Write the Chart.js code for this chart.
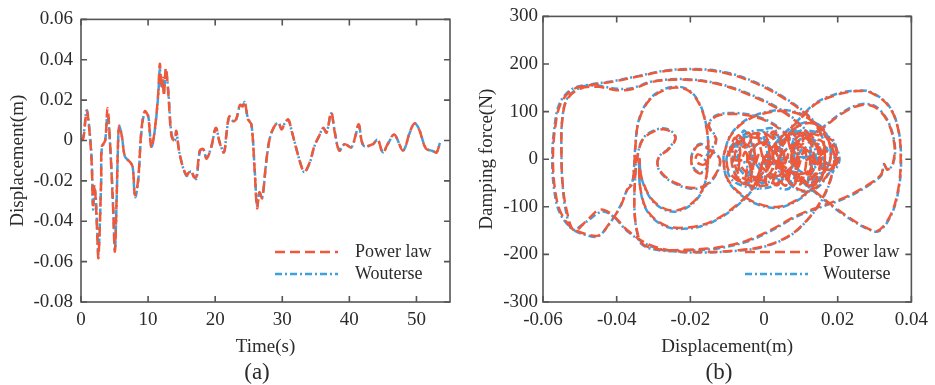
<!DOCTYPE html>
<html>
<head>
<meta charset="utf-8">
<script src="https://cdn.jsdelivr.net/npm/chart.js@4.4.1/dist/chart.umd.min.js"></script>
<style>
  body { margin: 0; background: #fff; }
  #wrap { position: relative; width: 935px; height: 385px; }
  canvas { position: absolute; top: 0; }
  .cap { position: absolute; font-family: 'Liberation Serif', 'Times New Roman', serif; font-size: 23px; color: #2b2b2b; transform: translate(-50%, -50%); }
</style>
</head>
<body>
<div id="wrap">
  <canvas id="chartA" width="465" height="385" style="left:0"></canvas>
  <canvas id="chartB" width="470" height="385" style="left:465px"></canvas>
  <div class="cap" style="left:257px; top:372px">(a)</div>
  <div class="cap" style="left:719px; top:372px">(b)</div>
</div>
<script>
// (a) time history of displacement
var timeS = [0, 0.35, 0.85, 1.3, 1.6, 1.8, 2.0, 2.2, 2.4, 2.6, 3.0, 3.1, 3.6, 3.95, 4.3, 4.8, 5.05, 5.3, 5.55, 5.7,
    6.1, 6.55, 7.3, 7.7, 8.05, 8.5, 9.0, 9.5, 10.0, 10.5, 11.0, 11.5, 11.75, 12.0, 12.2, 12.35, 12.65, 13.0, 13.5, 14.0,
    14.2, 14.7, 15.7, 16.4, 16.8, 17.2, 17.7, 18.2, 18.7, 19.4, 20.1, 20.7, 21.3, 21.7, 22.1, 22.6, 23.1, 23.7, 24.1, 24.4,
    24.9, 25.4, 25.9, 26.25, 26.6, 27.0, 27.6, 28.1, 28.7, 29.4, 29.9, 30.4, 30.9, 31.4, 32.1, 32.8, 33.3, 34.1, 34.8, 35.5,
    36.1, 36.6, 37.3, 37.8, 38.5, 39.3, 40.3, 40.9, 41.4, 42.1, 43.5, 44.2, 45.0, 45.7, 46.7, 48.0, 49.0, 49.7, 50.4, 51.4,
    52.4, 53.0, 53.5];
var dispPower = [0, 0.001, 0.0145, 0.003, -0.012, -0.032, -0.022, -0.03, -0.045, -0.058, -0.02, -0.003, 0.0, 0.016, 0.001, -0.035, -0.055, -0.03, 0.002, 0.0075,
    0.002, -0.008, -0.0107, -0.013, -0.027, -0.02, 0.005, 0.0145, 0.012, -0.0035, 0.0055, 0.023, 0.038, 0.026, 0.031, 0.022, 0.036, 0.024, 0.002, 0.0,
    0.0047, -0.0067, -0.017, -0.0148, -0.018, -0.018, -0.005, -0.0042, -0.009, -0.0034, 0.0063, -0.0015, -0.0059, 0.0039, 0.012, 0.0096, 0.0104, 0.0177, 0.0169, 0.0193,
    0.0104, 0.0079, -0.0156, -0.0335, -0.0256, -0.0286, -0.0107, 0.0006, 0.0063, 0.0088, 0.0055, 0.0088, 0.0104, 0.0047, -0.0042, -0.0123, -0.0156, -0.0107, -0.0026, 0.0023,
    0.0063, 0.0039, 0.014, 0.0045, -0.005, -0.0018, -0.0034, 0.0023, 0.008, -0.0025, -0.0018, 0.0006, -0.006, -0.0018, 0.003, -0.005, 0.004, 0.0085, 0.0055, -0.004,
    -0.005, -0.006, -0.001];
var dispWouterse = [0, 0.002, 0.015, 0.004, -0.01, -0.034, -0.024, -0.028, -0.043, -0.056, -0.021, -0.004, 0.0, 0.013, 0.0, -0.033, -0.054, -0.031, 0.001, 0.007,
    0.002, -0.008, -0.0105, -0.013, -0.028, -0.021, 0.004, 0.014, 0.0125, -0.003, 0.005, 0.022, 0.035, 0.027, 0.03, 0.024, 0.034, 0.025, 0.003, 0.0,
    0.0045, -0.0065, -0.0175, -0.0152, -0.0175, -0.019, -0.0055, -0.004, -0.0085, -0.0034, 0.006, -0.0012, -0.0058, 0.0036, 0.0115, 0.0098, 0.0102, 0.0175, 0.0172, 0.019,
    0.0108, 0.0082, -0.015, -0.032, -0.026, -0.0284, -0.011, 0.0004, 0.0062, 0.0089, 0.0058, 0.0087, 0.0102, 0.0048, -0.004, -0.0122, -0.0157, -0.011, -0.0028, 0.0022,
    0.0062, 0.0041, 0.0135, 0.0048, -0.0048, -0.0018, -0.0033, 0.0022, 0.0078, -0.0025, -0.002, 0.0005, -0.0058, -0.002, 0.0028, -0.0048, 0.0038, 0.0084, 0.0056, -0.0038,
    -0.0052, -0.0058, -0.0012];
var xTicksA = [0, 10, 20, 30, 40, 50];
var yTicksA = [-0.08, -0.06, -0.04, -0.02, 0, 0.02, 0.04, 0.06];
var yLabelsA = ['-0.08', '-0.06', '-0.04', '-0.02', '0', '0.02', '0.04', '0.06'];

// (b) damping force against displacement, [displacement, force] in drawing order
var hystPower = [
    [0.000, 0], [0.006, -25], [0.012, -30], [0.015, 0],
    [0.014, 30], [0.010, 70], [0.004, 105], [-0.004, 135], [-0.012, 157], [-0.021, 167], [-0.030, 163], [-0.036, 147], [-0.040, 145], [-0.045, 152], [-0.050, 148], [-0.0535, 125], [-0.0548, 80], [-0.0550, 20],
    [-0.0547, -50], [-0.0535, -110], [-0.0515, -150], [-0.048, -128], [-0.0445, -106], [-0.041, -118], [-0.037, -150], [-0.031, -180], [-0.024, -193], [-0.016, -195], [-0.008, -192], [0.000, -183], [0.007, -160], [0.012, -125], [0.016, -80], [0.0185, -30], [0.0190, 10],
    [0.017, 45], [0.012, 90], [0.006, 125], [-0.001, 155], [-0.009, 178], [-0.017, 188], [-0.026, 186], [-0.034, 174], [-0.041, 163], [-0.047, 156], [-0.052, 146], [-0.0553, 115], [-0.0568, 60], [-0.0573, 0],
    [-0.0568, -60], [-0.0553, -110], [-0.052, -145], [-0.048, -158], [-0.0448, -160], [-0.042, -135], [-0.039, -100], [-0.0372, -65], [-0.0358, -52], [-0.0352, -10], [-0.0350, 20],
    [-0.0340, 80], [-0.0310, 125], [-0.0260, 148], [-0.0210, 146], [-0.0175, 115], [-0.0155, 60], [-0.0152, 0], [-0.0165, -60], [-0.0200, -95], [-0.0250, -108], [-0.0300, -88], [-0.0332, -40], [-0.0338, 0],
    [-0.0336, -60], [-0.0315, -110], [-0.0265, -140], [-0.0200, -143], [-0.0140, -130], [-0.0080, -100], [-0.0030, -60], [0.0000, 0],
    [0.0040, 40], [0.0090, 78], [0.0140, 116], [0.0200, 136], [0.0250, 143], [0.0290, 140], [0.0340, 110], [0.0365, 60], [0.0371, 0], [0.0365, -60], [0.0345, -115], [0.0310, -150], [0.0280, -145], [0.0230, -122], [0.0180, -94], [0.0130, -62], [0.0080, -30], [0.0040, 0],
    [0.0080, 30], [0.0150, 60], [0.0210, 95], [0.0260, 113], [0.0300, 110], [0.0335, 80], [0.0354, 30], [0.0350, -8], [0.0335, -22], [0.0325, -10], [0.0318, -32], [0.0280, -55], [0.0220, -80], [0.0150, -100], [0.0090, -118], [0.0020, -148], [-0.0050, -172], [-0.0130, -186], [-0.0210, -190], [-0.0280, -190], [-0.0330, -178], [-0.0345, -150], [-0.0352, -100], [-0.0350, -40], [-0.0345, 0],
    [-0.0330, 40], [-0.0300, 58], [-0.0265, 62], [-0.0240, 45], [-0.0260, 20], [-0.0285, 5], [-0.0288, -15], [-0.0270, -35], [-0.0240, -50], [-0.0200, -60], [-0.0160, -55], [-0.0130, -30], [-0.0120, 0],
    [-0.0150, 20], [-0.0175, 30], [-0.0195, 10], [-0.0195, -15], [-0.0175, -30], [-0.0155, -20], [-0.0160, 0], [-0.0180, 10], [-0.0185, -5], [-0.0160, -10],
    [-0.0130, 40], [-0.0150, 70], [-0.0130, 90], [-0.0080, 95], [-0.0030, 90], [0.0020, 75], [0.0060, 50], [0.0080, 20], [0.0085, 0],
    [0.0090, -30], [0.0120, -55], [0.0155, -40], [0.0165, 0], [0.0160, 40], [0.0130, 80], [0.0070, 100], [0.0010, 98], [-0.0050, 80], [-0.0090, 50], [-0.0105, 20], [-0.0110, 0], [-0.0100, -40], [-0.0060, -75], [-0.0010, -95], [0.0040, -100], [0.0090, -85], [0.0130, -60], [0.0160, -30], [0.0180, 0],
    [0.0175, 40], [0.0150, 70], [0.0110, 75], [0.0070, 55], [0.0050, 25], [0.0045, 0], [0.0060, -40], [0.0100, -65], [0.0140, -60], [0.0170, -35], [0.0195, 0], [0.0195, 25], [0.0185, 40],
    [0.0150, 50], [0.0100, 55], [0.0060, 40], [0.0030, 15], [0.0010, -10], [-0.0010, -35], [-0.0040, -45], [-0.0070, -30], [-0.0080, 0], [-0.0070, 30], [-0.0040, 50], [0.0000, 55], [0.0030, 35], [0.0040, 0], [0.0030, -30], [0.0000, -45], [-0.0030, -30], [-0.0040, 0], [-0.0030, 25], [0.0000, 35], [0.0020, 20], [0.0030, -5], [0.0050, -30], [0.0080, -45], [0.0110, -40], [0.0130, -15], [0.0135, 10], [0.0125, 35], [0.0100, 50], [0.0080, 35], [0.0075, 10], [0.0085, -15], [0.0100, -30], [0.0120, -25], [0.0125, 0], [0.0115, 20], [0.0095, 25], [0.0090, 5],
    [0.0070, -20], [0.0040, -35], [0.0005, -25], [-0.0020, 0], [-0.0030, 20], [-0.0050, 30], [-0.0065, 15], [-0.0065, -10], [-0.0045, -30], [-0.0010, -40], [0.0020, -25], [0.0025, 5], [0.0010, 30], [-0.0020, 45], [-0.0060, 40], [-0.0095, 15], [-0.0100, -15], [-0.0080, -40], [-0.0040, -55], [0.0010, -55], [0.0050, -45], [0.0070, -20], [0.0075, 10], [0.0090, 35], [0.0115, 45], [0.0140, 30], [0.0150, 5], [0.0150, -20], [0.0130, -40], [0.0105, -45], [0.0090, -25], [0.0095, 0], [0.0110, 15], [0.0130, 15], [0.0140, -5], [0.0160, -20], [0.0185, -20], [0.0200, -5], [0.0200, 15], [0.0185, 30], [0.0165, 25], [0.0160, 5], [0.0170, -10], [0.0190, -10], [0.0195, 5], [0.0180, 15], [0.0150, 15], [0.0120, 0], [0.0080, -10], [0.0040, -5], [0.0010, 5],
    [-0.0090, 0], [-0.0080, 45], [-0.0065, 20], [-0.0070, -40], [-0.0055, -50], [-0.0045, 0], [-0.0055, 45], [-0.0040, 55], [-0.0025, 10], [-0.0035, -45], [-0.0020, -55], [-0.0005, 0], [-0.0015, 50], [0.0000, 58], [0.0015, 10], [0.0005, -50], [0.0020, -55], [0.0035, 0], [0.0025, 50], [0.0040, 55], [0.0055, 5], [0.0045, -45], [0.0060, -55], [0.0075, 0], [0.0065, 50], [0.0080, 55], [0.0095, 5], [0.0085, -45], [0.0100, -52], [0.0115, 0], [0.0105, 48], [0.0120, 50], [0.0135, 5], [0.0125, -45], [0.0140, -45], [0.0155, 0], [0.0148, 40], [0.0160, 35], [0.0165, 0], [0.0158, -35], [0.0140, -30],
    [0.0120, -50], [0.0095, -35], [0.0080, -55], [0.0055, -35], [0.0035, -55], [0.0010, -35], [-0.0010, -55], [-0.0035, -35], [-0.0055, -52], [-0.0080, -30], [-0.0088, 10], [-0.0070, 50], [-0.0045, 30], [-0.0025, 55], [0.0000, 30], [0.0025, 58], [0.0050, 30], [0.0075, 55], [0.0100, 30], [0.0125, 50], [0.0150, 20], [0.0152, -15], [0.0130, -5], [0.0110, 20], [0.0090, -20], [0.0070, 15], [0.0050, -20], [0.0030, 15], [0.0010, -20], [-0.0010, 15], [-0.0030, -20], [-0.0050, 15], [-0.0060, 0]
];
var hystWouterse = [
    [0.000, 0], [0.006, -22], [0.012, -28], [0.015, 0],
    [0.014, 32], [0.010, 72], [0.004, 107], [-0.004, 137], [-0.012, 158], [-0.021, 168], [-0.030, 164], [-0.036, 149], [-0.040, 148], [-0.046, 155], [-0.050, 150], [-0.0535, 127], [-0.0548, 82], [-0.0550, 20],
    [-0.0547, -52], [-0.0537, -112], [-0.0520, -148], [-0.048, -130], [-0.0440, -110], [-0.041, -120], [-0.037, -152], [-0.031, -182], [-0.024, -194], [-0.016, -196], [-0.008, -193], [0.000, -184], [0.007, -161], [0.012, -126], [0.016, -82], [0.0185, -32], [0.0190, 10],
    [0.017, 46], [0.012, 92], [0.006, 127], [-0.001, 157], [-0.009, 180], [-0.017, 189], [-0.026, 187], [-0.034, 175], [-0.041, 164], [-0.047, 157], [-0.052, 148], [-0.0555, 117], [-0.0570, 60], [-0.0575, 0],
    [-0.0570, -62], [-0.0555, -112], [-0.052, -147], [-0.048, -160], [-0.0450, -162], [-0.042, -136], [-0.039, -98], [-0.0368, -58], [-0.0358, -50], [-0.0352, -8], [-0.0350, 20],
    [-0.0340, 82], [-0.0310, 127], [-0.0260, 150], [-0.0210, 148], [-0.0175, 117], [-0.0155, 62], [-0.0152, 0], [-0.0165, -62], [-0.0200, -97], [-0.0250, -110], [-0.0300, -90], [-0.0332, -42], [-0.0338, 0],
    [-0.0336, -62], [-0.0315, -112], [-0.0265, -142], [-0.0200, -145], [-0.0140, -132], [-0.0080, -102], [-0.0030, -62], [0.0000, 0],
    [0.0040, 42], [0.0090, 80], [0.0140, 118], [0.0200, 138], [0.0250, 144], [0.0290, 141], [0.0340, 111], [0.0365, 61], [0.0372, 0], [0.0366, -61], [0.0346, -116], [0.0312, -151], [0.0280, -146], [0.0230, -124], [0.0180, -96], [0.0130, -64], [0.0080, -32], [0.0040, 0],
    [0.0080, 32], [0.0150, 62], [0.0210, 97], [0.0260, 115], [0.0300, 112], [0.0335, 82], [0.0355, 30], [0.0351, -8], [0.0336, -22], [0.0326, -12], [0.0318, -34], [0.0280, -57], [0.0220, -82], [0.0150, -102], [0.0090, -120], [0.0020, -150], [-0.0050, -174], [-0.0130, -188], [-0.0210, -192], [-0.0280, -192], [-0.0330, -180], [-0.0345, -152], [-0.0352, -102], [-0.0350, -42], [-0.0345, 0],
    [-0.0330, 42], [-0.0300, 60], [-0.0265, 64], [-0.0240, 47], [-0.0260, 22], [-0.0285, 5], [-0.0288, -17], [-0.0270, -37], [-0.0240, -52], [-0.0200, -62], [-0.0160, -57], [-0.0130, -32], [-0.0120, 0],
    [-0.0150, 22], [-0.0175, 32], [-0.0195, 12], [-0.0195, -13], [-0.0175, -28], [-0.0155, -18], [-0.0160, 0],
    [-0.0130, 42], [-0.0150, 72], [-0.0130, 92], [-0.0080, 97], [-0.0030, 92], [0.0020, 77], [0.0060, 52], [0.0080, 22], [0.0085, 0],
    [0.0090, -32], [0.0120, -57], [0.0155, -42], [0.0165, 0], [0.0160, 42], [0.0130, 82], [0.0070, 102], [0.0010, 100], [-0.0050, 82], [-0.0090, 52], [-0.0105, 22], [-0.0110, 0], [-0.0100, -42], [-0.0060, -77], [-0.0010, -97], [0.0040, -102], [0.0090, -87], [0.0130, -62], [0.0160, -32], [0.0180, 0],
    [0.0175, 42], [0.0150, 72], [0.0110, 77], [0.0070, 57], [0.0050, 27], [0.0045, 0], [0.0060, -42], [0.0100, -67], [0.0140, -62], [0.0170, -37], [0.0195, 0], [0.0195, 27], [0.0185, 42],
    [0.0150, 55], [0.0100, 60], [0.0060, 45], [0.0030, 20], [0.0010, -5], [-0.0010, -30], [-0.0045, -50], [-0.0075, -35], [-0.0085, 0], [-0.0075, 35], [-0.0045, 55], [0.0000, 60], [0.0035, 40], [0.0045, 0], [0.0035, -35], [0.0000, -50], [-0.0035, -35], [-0.0045, 0], [0.0000, 40], [0.0035, 10], [0.0055, -35], [0.0085, -50], [0.0115, -45], [0.0135, -20], [0.0140, 10], [0.0130, 40], [0.0100, 55], [0.0080, 40], [0.0075, 10], [0.0090, -20], [0.0120, -30], [0.0130, 0], [0.0110, 25], [0.0090, 5],
    [0.0070, -25], [0.0040, -40], [0.0000, -30], [-0.0030, 0], [-0.0055, 35], [-0.0070, 10], [-0.0070, -15], [-0.0045, -35], [0.0020, -30], [0.0010, 35], [-0.0060, 45], [-0.0100, 10], [-0.0085, -45], [0.0010, -60], [0.0070, -25], [0.0095, 40], [0.0145, 35], [0.0155, -25], [0.0105, -50], [0.0095, 0], [0.0140, 0], [0.0185, -25], [0.0205, 0], [0.0185, 35], [0.0160, 0], [0.0190, -12], [0.0185, 18], [0.0120, 5], [0.0040, -8],
    [-0.0070, 0], [-0.0055, 60], [-0.0030, 20], [-0.0040, -55], [-0.0010, -60], [0.0010, 0], [0.0000, 60], [0.0030, 62], [0.0050, 0], [0.0040, -58], [0.0070, -60], [0.0090, 0], [0.0080, 58], [0.0110, 55], [0.0130, 0], [0.0120, -50], [0.0150, -40], [0.0160, 0], [-0.0010, 0]
];
var xTicksB = [-0.06, -0.04, -0.02, 0, 0.02, 0.04];
var xLabelsB = ['-0.06', '-0.04', '-0.02', '0', '0.02', '0.04'];
var yTicksB = [-300, -200, -100, 0, 100, 200, 300];

var serif = "'Liberation Serif', 'Times New Roman', serif";
var textColor = '#2b2b2b';
var redColor = '#ef5838';
var blueColor = '#3f9fdf';

// box round the plot area with inward ticks on all four sides
var framePlugin = {
    id: 'frame',
    afterDatasetsDraw: function (chart) {
        var ctx = chart.ctx;
        var a = chart.chartArea;
        var xs = chart.scales.x;
        var ys = chart.scales.y;
        ctx.save();
        ctx.setLineDash([]);
        ctx.strokeStyle = '#555555';
        ctx.lineWidth = 1.6;
        ctx.strokeRect(a.left, a.top, a.right - a.left, a.bottom - a.top);
        ctx.beginPath();
        xs.ticks.forEach(function (t) {
            var p = xs.getPixelForValue(t.value);
            ctx.moveTo(p, a.bottom); ctx.lineTo(p, a.bottom - 6);
            ctx.moveTo(p, a.top); ctx.lineTo(p, a.top + 6);
        });
        ys.ticks.forEach(function (t) {
            var p = ys.getPixelForValue(t.value);
            ctx.moveTo(a.left, p); ctx.lineTo(a.left + 6, p);
            ctx.moveTo(a.right, p); ctx.lineTo(a.right - 6, p);
        });
        ctx.stroke();
        ctx.restore();
    }
};

// legend drawn inside the plot with the datasets' own dash patterns
var keyPlugin = {
    id: 'keyLines',
    afterDatasetsDraw: function (chart, args, opts) {
        var ctx = chart.ctx;
        chart.data.datasets.forEach(function (ds, i) {
            var y = opts.y + i * opts.gap;
            ctx.save();
            ctx.strokeStyle = ds.borderColor;
            ctx.lineWidth = ds.borderWidth;
            ctx.setLineDash(ds.borderDash);
            ctx.beginPath();
            ctx.moveTo(opts.x, y);
            ctx.lineTo(opts.x + opts.len, y);
            ctx.stroke();
            ctx.setLineDash([]);
            ctx.fillStyle = textColor;
            ctx.font = '18px ' + serif;
            ctx.textBaseline = 'middle';
            ctx.fillText(ds.label, opts.textX, y);
            ctx.restore();
        });
    }
};

function serie(label, points, color, dash) {
    return {
        label: label,
        data: points,
        showLine: true,
        borderColor: color,
        borderWidth: 2.5,
        borderDash: dash,
        pointRadius: 0,
        tension: 0.35,
        fill: false
    };
}

function eixo(min, max, ticks, labels, size, fitProp, pad, title, titlePad) {
    return {
        type: 'linear',
        min: min,
        max: max,
        afterBuildTicks: function (s) { s.ticks = ticks.map(function (v) { return { value: v }; }); },
        afterFit: function (s) { s[fitProp] = size; },
        grid: { display: false, drawTicks: false },
        border: { display: false },
        ticks: {
            padding: pad,
            color: textColor,
            font: { family: serif, size: 19 },
            callback: function (v, i) { return labels[i]; }
        },
        title: { display: true, text: title, color: textColor, font: { family: serif, size: 19 }, padding: titlePad }
    };
}

var pontosA1 = timeS.map(function (t, i) { return { x: t, y: dispPower[i] }; });
var pontosA2 = timeS.map(function (t, i) { return { x: t, y: dispWouterse[i] }; });
var pontosB1 = hystPower.map(function (p) { return { x: p[0], y: p[1] }; });
var pontosB2 = hystWouterse.map(function (p) { return { x: p[0], y: p[1] }; });

new Chart(document.getElementById('chartA'), {
    type: 'scatter',
    data: {
        datasets: [
            serie('Power law', pontosA1, redColor, [10, 5]),
            serie('Wouterse', pontosA2, blueColor, [7, 3, 2, 3])
        ]
    },
    options: {
        responsive: false,
        animation: false,
        layout: { padding: { top: 15, right: 15, left: 0, bottom: 0 } },
        plugins: {
            legend: { display: false },
            tooltip: { enabled: false },
            keyLines: { x: 275, len: 63, textX: 355, y: 252, gap: 22 }
        },
        scales: {
            x: eixo(0, 55, xTicksA, xTicksA.map(String), 83, 'height', 7, 'Time(s)', { top: 0, bottom: 27 }),
            y: eixo(-0.08, 0.06, yTicksA, yLabelsA, 81, 'width', 8, 'Displacement(m)', { top: 7, bottom: 0 })
        }
    },
    plugins: [framePlugin, keyPlugin]
});

new Chart(document.getElementById('chartB'), {
    type: 'scatter',
    data: {
        datasets: [
            serie('Power law', pontosB1, redColor, [10, 5]),
            serie('Wouterse', pontosB2, blueColor, [7, 3, 2, 3])
        ]
    },
    options: {
        responsive: false,
        animation: false,
        layout: { padding: { top: 15, right: 18, left: 0, bottom: 0 } },
        plugins: {
            legend: { display: false },
            tooltip: { enabled: false },
            keyLines: { x: 280, len: 63, textX: 358, y: 252, gap: 22 }
        },
        scales: {
            x: eixo(-0.06, 0.04, xTicksB, xLabelsB, 83, 'height', 7, 'Displacement(m)', { top: 0, bottom: 27 }),
            y: eixo(-300, 300, yTicksB, yTicksB.map(String), 78, 'width', 5, 'Damping force(N)', { top: 11, bottom: 0 })
        }
    },
    plugins: [framePlugin, keyPlugin]
});
</script>
</body>
</html>
